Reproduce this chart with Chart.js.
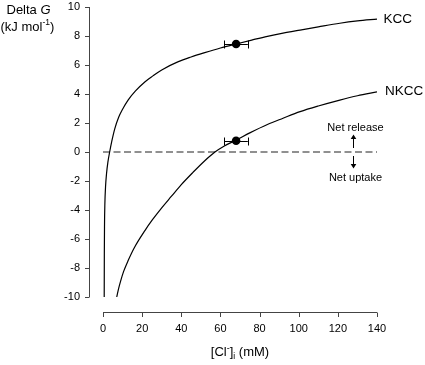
<!DOCTYPE html>
<html><head><meta charset="utf-8">
<script src="https://cdn.jsdelivr.net/npm/chart.js@4"></script>
<style>html,body{margin:0;padding:0;background:#fff;}canvas{display:block;}</style>
</head><body>
<canvas id="c" width="425" height="365"></canvas>
<script>
// ---- data ----
const xTicks = [0, 20, 40, 60, 80, 100, 120, 140];
const yTicks = [-10, -8, -6, -4, -2, 0, 2, 4, 6, 8, 10];
const seriesNames = ['KCC', 'NKCC'];
const kccX = [0.62, 0.68, 0.78, 0.95, 1.3, 1.8, 2.5, 3.4, 4.5, 6, 8, 10, 12.9, 16.5, 21.5, 25.5, 30, 38.5, 45, 52, 60, 68, 76, 84, 92, 100.7, 110, 121, 130, 140];
const kccY = [-10, -7, -5, -3.6, -2.4, -1.5, -0.7, 0, 0.75, 1.6, 2.4, 2.95, 3.6, 4.2, 4.85, 5.25, 5.66, 6.23, 6.55, 6.85, 7.17, 7.45, 7.72, 7.98, 8.2, 8.41, 8.63, 8.88, 9.04, 9.17];
const nkccX = [7, 8, 9, 10.5, 12.9, 16, 21.5, 25, 30, 35, 40, 46, 52, 57.2, 62, 68, 75, 84, 92, 100.7, 110, 121, 130, 140];
const nkccY = [-10, -9.4, -8.9, -8.25, -7.47, -6.6, -5.4, -4.72, -3.85, -3.05, -2.25, -1.4, -0.6, 0, 0.42, 0.82, 1.32, 1.9, 2.33, 2.78, 3.17, 3.58, 3.88, 4.15];
const pointX = [68, 68];
const pointY = [7.45, 0.78];
const pointErr = [6, 6];
const zeroX = [0, 140];
const zeroY = [0, 0];
const arrowX = 127.5;
const noteUp = 'Net release';
const noteDown = 'Net uptake';

const FONT = '"Liberation Sans", Arial, Helvetica, sans-serif';
Chart.defaults.font.family = FONT;
Chart.defaults.color = '#000';

const toXY = (xs, ys) => xs.map((v, i) => ({x: v, y: ys[i]}));

function richText(ctx, parts, x, y, align) {
  // parts: [text, size, dy, italic]
  let total = 0;
  parts.forEach(p => { ctx.font = (p[3] ? 'italic ' : '') + p[1] + 'px ' + FONT; p.w = ctx.measureText(p[0]).width; total += p.w; });
  let cx = align === 'center' ? x - total / 2 : x;
  ctx.textAlign = 'left'; ctx.textBaseline = 'middle';
  parts.forEach(p => { ctx.font = (p[3] ? 'italic ' : '') + p[1] + 'px ' + FONT; ctx.fillText(p[0], cx, y + p[2]); cx += p.w; });
}

const decor = {
  id: 'decor',
  afterDatasetsDraw(chart) {
    const {ctx, chartArea: a, scales: {x, y}} = chart;
    ctx.save();
    // axes (offset from plot region)
    ctx.strokeStyle = '#444'; ctx.lineWidth = 1;
    ctx.beginPath();
    const ax = Math.round(a.left - 14) + 0.5;
    ctx.moveTo(ax, y.getPixelForValue(yTicks[0])); ctx.lineTo(ax, y.getPixelForValue(yTicks[yTicks.length - 1]));
    yTicks.forEach(v => { const p = Math.round(y.getPixelForValue(v)) + 0.5; ctx.moveTo(ax - 4.5, p); ctx.lineTo(ax, p); });
    const ay = Math.round(a.bottom + 15) + 0.5;
    ctx.moveTo(x.getPixelForValue(xTicks[0]), ay); ctx.lineTo(x.getPixelForValue(xTicks[xTicks.length - 1]), ay);
    xTicks.forEach(v => { const p = Math.round(x.getPixelForValue(v)) + 0.5; ctx.moveTo(p, ay); ctx.lineTo(p, ay + 4.5); });
    ctx.stroke();

    // error bars
    ctx.strokeStyle = '#000'; ctx.lineWidth = 1;
    ctx.beginPath();
    pointX.forEach((v, i) => {
      const lo = x.getPixelForValue(v - pointErr[i]), hi = x.getPixelForValue(v + pointErr[i]);
      const py = Math.round(y.getPixelForValue(pointY[i])) + 0.5;
      ctx.moveTo(lo, py); ctx.lineTo(hi, py);
      ctx.moveTo(Math.round(lo) + 0.5, py - 4); ctx.lineTo(Math.round(lo) + 0.5, py + 4);
      ctx.moveTo(Math.round(hi) + 0.5, py - 4); ctx.lineTo(Math.round(hi) + 0.5, py + 4);
    });
    ctx.stroke();

    // series labels
    ctx.fillStyle = '#000';
    ctx.font = '13.5px ' + FONT; ctx.textAlign = 'left'; ctx.textBaseline = 'middle';
    ctx.fillText(seriesNames[0], x.getPixelForValue(kccX[kccX.length - 1]) + 6.5, y.getPixelForValue(kccY[kccY.length - 1]) + 0.5);
    ctx.fillText(seriesNames[1], x.getPixelForValue(nkccX[nkccX.length - 1]) + 8, y.getPixelForValue(nkccY[nkccY.length - 1]) - 1);

    // arrows + notes
    const y0 = y.getPixelForValue(0);
    const axp = Math.round(x.getPixelForValue(arrowX)) + 0.5;
    ctx.beginPath();
    ctx.moveTo(axp, y0 - 4); ctx.lineTo(axp, y0 - 14);
    ctx.moveTo(axp, y0 + 4); ctx.lineTo(axp, y0 + 13);
    ctx.stroke();
    ctx.beginPath();
    ctx.moveTo(axp, y0 - 17.5); ctx.lineTo(axp - 2.8, y0 - 13); ctx.lineTo(axp + 2.8, y0 - 13); ctx.closePath();
    ctx.moveTo(axp, y0 + 16.5); ctx.lineTo(axp - 2.8, y0 + 12); ctx.lineTo(axp + 2.8, y0 + 12); ctx.closePath();
    ctx.fill();
    ctx.font = '11px ' + FONT; ctx.textAlign = 'center';
    ctx.fillText(noteUp, axp + 2, y0 - 24.5);
    ctx.fillText(noteDown, axp + 2, y0 + 25.5);

    // axis titles
    richText(ctx, [['Delta ', 13, 0], ['G', 13, 0, true]], 6.5, 10, 'left');
    richText(ctx, [['(kJ mol', 13, 0], ['-1', 8.5, -4.5], [')', 13, 0]], 0.5, 27, 'left');
    richText(ctx, [['[Cl', 13, 0], ['-', 9, -3.5], [']', 13, 0], ['i', 8.5, 5], [' (mM)', 13, 0]], (a.left + a.right) / 2, 352, 'center');
    ctx.restore();
  }
};

new Chart(document.getElementById('c'), {
  type: 'line',
  data: {
    datasets: [
      {label: 'points', data: toXY(pointX, pointY), showLine: false, pointRadius: 4.3, pointBackgroundColor: '#000', pointBorderColor: '#000', pointBorderWidth: 0},
      {label: seriesNames[0], data: toXY(kccX, kccY), borderColor: '#000', borderWidth: 1.2, pointRadius: 0, cubicInterpolationMode: 'monotone', fill: false},
      {label: seriesNames[1], data: toXY(nkccX, nkccY), borderColor: '#000', borderWidth: 1.2, pointRadius: 0, cubicInterpolationMode: 'monotone', fill: false},
      {label: 'zero', data: toXY(zeroX, zeroY), borderColor: '#909090', borderWidth: 2, borderDash: [7, 3.5], pointRadius: 0, fill: false}
    ]
  },
  options: {
    responsive: false,
    animation: false,
    devicePixelRatio: 1,
    layout: {padding: {top: 7, right: 48, left: 0, bottom: 0}},
    plugins: {legend: {display: false}, tooltip: {enabled: false}},
    scales: {
      x: {
        type: 'linear', min: xTicks[0], max: xTicks[xTicks.length - 1],
        grid: {display: false, drawTicks: false}, border: {display: false},
        afterBuildTicks: s => { s.ticks = xTicks.map(v => ({value: v})); },
        afterFit: s => { s.height = 68; s.paddingLeft = 0; s.paddingRight = 0; },
        ticks: {padding: 25, font: {size: 11}, color: '#000', autoSkip: false, maxRotation: 0}
      },
      y: {
        type: 'linear', min: yTicks[0], max: yTicks[yTicks.length - 1],
        grid: {display: false, drawTicks: false}, border: {display: false},
        afterBuildTicks: s => { s.ticks = yTicks.map(v => ({value: v})); },
        afterFit: s => { s.width = 103; s.paddingTop = 0; s.paddingBottom = 0; },
        ticks: {padding: 23, font: {size: 11}, color: '#000', autoSkip: false}
      }
    }
  },
  plugins: [decor]
});
</script>
</body></html>
